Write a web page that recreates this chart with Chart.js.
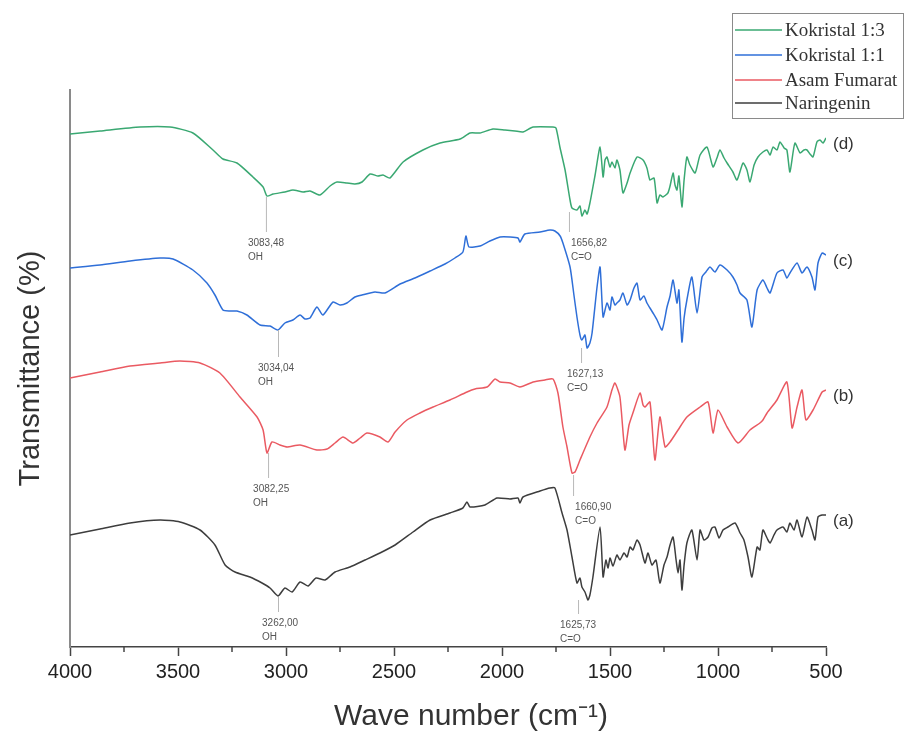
<!DOCTYPE html>
<html>
<head>
<meta charset="utf-8">
<script src="https://cdn.jsdelivr.net/npm/chart.js@4.4.1/dist/chart.umd.min.js"></script>
<style>
  html, body { margin: 0; padding: 0; background: #fff; }
  #wrap { width: 904px; height: 740px; }
</style>
</head>
<body>
<div id="wrap"><canvas id="ftirChart" width="904" height="740"></canvas></div>
<script>
// FTIR spectra, [wave number, transmittance (stacked, arbitrary offset)]
const kokristal13 = [[4000,513],[3861,516],[3676,520],[3537,520],[3431,514],[3338,497],[3292,488],[3227,484],[3153,470],[3106,460],[3088,451],[3060,453],[3005,455],[2968,457],[2921,455],[2889,456],[2843,452],[2796,461],[2764,465],[2718,464],[2681,463],[2648,465],[2611,473],[2574,471],[2551,472],[2519,469],[2458,485],[2366,497],[2287,504],[2194,508],[2148,514],[2102,514],[2042,518],[1986,517],[1940,516],[1903,515],[1856,520],[1764,520],[1750,519],[1731,499],[1708,477],[1685,447],[1676,439],[1653,437],[1639,441],[1630,431],[1616,437],[1606,433],[1593,444],[1569,472],[1546,500],[1532,470],[1523,487],[1514,490],[1500,480],[1491,485],[1477,479],[1468,487],[1454,477],[1440,454],[1421,464],[1407,474],[1375,490],[1347,487],[1329,479],[1315,467],[1296,469],[1282,444],[1269,452],[1255,450],[1232,454],[1222,461],[1208,474],[1199,462],[1190,457],[1181,471],[1167,440],[1157,467],[1144,490],[1130,482],[1106,474],[1083,492],[1051,500],[1023,480],[1005,489],[991,497],[972,489],[958,484],[931,475],[912,467],[884,484],[866,477],[852,465],[833,482],[815,490],[792,495],[773,497],[759,492],[745,500],[727,497],[713,505],[694,499],[681,497],[667,475],[644,504],[620,494],[602,497],[588,497],[574,493],[560,490],[542,505],[528,507],[514,504],[500,509]];

const kokristal11 = [[4000,379],[3861,382],[3722,386],[3583,389],[3523,388],[3431,377],[3366,364],[3329,352],[3292,337],[3259,336],[3227,336],[3181,332],[3120,322],[3074,321],[3037,317],[3005,324],[2968,327],[2935,332],[2912,328],[2889,329],[2857,340],[2829,332],[2782,345],[2750,342],[2718,344],[2681,350],[2648,352],[2588,355],[2542,354],[2472,363],[2403,369],[2333,376],[2264,383],[2218,389],[2181,395],[2167,411],[2153,400],[2102,401],[2056,406],[2009,410],[1963,410],[1926,409],[1917,405],[1894,413],[1824,415],[1778,417],[1755,416],[1731,411],[1718,404],[1685,380],[1667,352],[1653,330],[1639,312],[1630,307],[1616,312],[1606,299],[1593,304],[1583,314],[1560,360],[1546,380],[1532,330],[1514,344],[1500,337],[1491,350],[1477,342],[1468,344],[1454,347],[1440,354],[1421,342],[1407,347],[1389,359],[1375,364],[1361,347],[1343,351],[1329,344],[1315,339],[1301,334],[1282,327],[1259,317],[1236,340],[1222,351],[1208,367],[1190,344],[1181,357],[1167,305],[1157,329],[1144,347],[1121,370],[1097,334],[1074,370],[1056,375],[1037,380],[1014,375],[991,382],[958,377],[931,370],[912,362],[898,354],[866,347],[843,320],[819,357],[792,367],[773,359],[759,354],[727,374],[699,377],[681,369],[667,374],[634,384],[611,374],[588,380],[565,370],[551,357],[537,384],[518,394],[500,392]];

const asamFumarat = [[4000,269],[3861,275],[3722,281],[3583,284],[3491,286],[3398,284],[3306,274],[3213,250],[3134,230],[3106,217],[3088,194],[3065,205],[3028,202],[2995,200],[2935,202],[2857,197],[2810,198],[2773,204],[2736,210],[2690,204],[2657,209],[2625,214],[2565,210],[2528,205],[2495,215],[2440,227],[2380,234],[2319,240],[2241,247],[2162,255],[2125,258],[2069,260],[2032,268],[2009,265],[1963,264],[1917,260],[1856,265],[1801,267],[1764,268],[1741,254],[1718,220],[1699,200],[1676,174],[1662,175],[1639,187],[1593,210],[1560,224],[1514,240],[1491,257],[1477,264],[1454,250],[1431,197],[1412,222],[1394,234],[1361,254],[1347,242],[1338,240],[1315,245],[1292,187],[1269,230],[1245,200],[1222,205],[1185,217],[1144,230],[1083,240],[1046,245],[1023,214],[1000,237],[958,220],[907,204],[852,217],[806,224],[792,227],[773,234],[727,247],[681,265],[657,219],[634,240],[611,257],[593,227],[560,237],[518,255],[500,257]];

const naringenin = [[4000,112],[3861,118],[3722,124],[3583,127],[3491,125],[3398,117],[3329,102],[3282,82],[3236,75],[3167,70],[3111,64],[3074,59],[3037,51],[3005,59],[2972,55],[2935,65],[2898,61],[2861,69],[2819,67],[2773,75],[2704,80],[2634,87],[2565,94],[2495,102],[2412,115],[2333,127],[2241,134],[2181,139],[2162,145],[2148,140],[2079,142],[2023,149],[1963,148],[1926,149],[1917,144],[1903,150],[1824,156],[1778,159],[1755,159],[1722,134],[1699,117],[1676,90],[1653,64],[1639,69],[1630,60],[1616,55],[1602,47],[1593,52],[1579,70],[1546,120],[1532,70],[1519,87],[1509,79],[1500,89],[1486,81],[1468,92],[1454,87],[1435,94],[1421,90],[1407,100],[1394,97],[1375,107],[1361,102],[1338,84],[1324,94],[1306,82],[1287,87],[1269,64],[1250,82],[1236,90],[1222,102],[1208,110],[1194,87],[1185,74],[1176,87],[1167,57],[1157,82],[1144,104],[1121,117],[1097,87],[1083,117],[1065,107],[1046,110],[1028,119],[1014,120],[995,109],[977,117],[954,120],[921,124],[898,114],[880,107],[861,90],[843,70],[819,100],[806,97],[792,117],[773,109],[759,104],[741,112],[727,117],[699,120],[681,115],[667,124],[648,117],[634,127],[611,110],[588,130],[565,117],[551,107],[537,130],[518,132],[500,132]];

const seriesNames = ['Kokristal 1:3', 'Kokristal 1:1', 'Asam Fumarat', 'Naringenin'];
const seriesTags = ['(d)', '(c)', '(b)', '(a)'];
const seriesColors = ['#3aa872', '#2f6fd8', '#ea5a62', '#3d3d3d'];

const xTickValues = [4000, 3500, 3000, 2500, 2000, 1500, 1000, 500];
const xMinorTicks = [3750, 3250, 2750, 2250, 1750, 1250, 750];
const xTitle = 'Wave number (cm\u207B\u00B9)';

// peak annotations
const peakWn = [3093, 1690, 3037, 1634, 3083, 1671, 3037, 1648];
const peakTop = [450, 435, 317, 299, 194, 172, 50, 47];
const peakNum = ['3083,48', '1656,82', '3034,04', '1627,13', '3082,25', '1660,90', '3262,00', '1625,73'];
const peakGroup = ['OH', 'C=O', 'OH', 'C=O', 'OH', 'C=O', 'OH', 'C=O'];

(function() {
  const toXY = arr => arr.map(p => ({ x: p[0], y: p[1] }));
  const allSeries = [kokristal13, kokristal11, asamFumarat, naringenin];

  const peakLineLen = [35, 20, 27, 15, 25, 21, 15, 14];
  const peakTextDx = [-18, 2, -20, -14, -15, 2, -16, -18];

  const decorPlugin = {
    id: 'decor',
    afterDatasetsDraw(chart) {
      const ctx = chart.ctx;
      const xs = chart.scales.x, ys = chart.scales.y;
      ctx.save();
      // peak markers + labels
      for (let i = 0; i < peakWn.length; i++) {
        const px = xs.getPixelForValue(peakWn[i]);
        const py = ys.getPixelForValue(peakTop[i]);
        const pb = py + peakLineLen[i];
        ctx.strokeStyle = '#b8b8b8';
        ctx.lineWidth = 1;
        ctx.beginPath();
        ctx.moveTo(px + 0.5, py);
        ctx.lineTo(px + 0.5, pb);
        ctx.stroke();
        ctx.fillStyle = '#555';
        ctx.font = '10px "Liberation Sans", Arial, sans-serif';
        ctx.textAlign = 'left';
        ctx.textBaseline = 'middle';
        ctx.fillText(peakNum[i], px + peakTextDx[i], pb + 11);
        ctx.fillText(peakGroup[i], px + peakTextDx[i], pb + 25);
      }
      ctx.restore();
    },
    afterDraw(chart) {
      const ctx = chart.ctx;
      const xs = chart.scales.x, ys = chart.scales.y;
      const area = chart.chartArea;
      ctx.save();
      // minor ticks
      ctx.strokeStyle = '#444';
      ctx.lineWidth = 1.5;
      xMinorTicks.forEach(v => {
        const px = xs.getPixelForValue(v);
        ctx.beginPath();
        ctx.moveTo(px, area.bottom);
        ctx.lineTo(px, area.bottom + 5);
        ctx.stroke();
      });
      // x axis title (sits a little right of centre in the original)
      ctx.fillStyle = '#333';
      ctx.font = '30px "Liberation Sans", Arial, sans-serif';
      ctx.textAlign = 'center';
      ctx.textBaseline = 'middle';
      ctx.fillText(xTitle, 471, 717);
      // series tags at the right end
      ctx.font = '17px "Liberation Sans", Arial, sans-serif';
      ctx.textAlign = 'left';
      allSeries.forEach((s, i) => {
        const last = s[s.length - 1];
        ctx.fillText(seriesTags[i], area.right + 7, ys.getPixelForValue(last[1]) + 6);
      });
      // legend box
      const bx = 732, by = 13, bw = 171, bh = 105;
      ctx.fillStyle = '#fff';
      ctx.fillRect(bx, by, bw, bh);
      ctx.strokeStyle = '#8a8a8a';
      ctx.lineWidth = 1;
      ctx.strokeRect(bx + 0.5, by + 0.5, bw, bh);
      const rowY = [30, 55, 80, 103];
      ctx.font = '19px "Liberation Serif", "Times New Roman", serif';
      chart.data.datasets.forEach((ds, i) => {
        ctx.strokeStyle = ds.borderColor;
        ctx.lineWidth = 1.5;
        ctx.beginPath();
        ctx.moveTo(735, rowY[i]);
        ctx.lineTo(782, rowY[i]);
        ctx.stroke();
        ctx.fillStyle = '#333';
        ctx.fillText(ds.label, 785, rowY[i] + 1);
      });
      ctx.restore();
    }
  };

  new Chart(document.getElementById('ftirChart').getContext('2d'), {
    type: 'line',
    data: {
      datasets: allSeries.map((s, i) => ({
        label: seriesNames[i],
        data: toXY(s),
        borderColor: seriesColors[i],
        borderWidth: 1.5,
        pointRadius: 0,
        tension: 0.2,
        fill: false
      }))
    },
    options: {
      responsive: false,
      animation: false,
      layout: { padding: { top: 90, right: 78, left: 0, bottom: 0 } },
      plugins: { legend: { display: false }, tooltip: { enabled: false } },
      scales: {
        x: {
          type: 'linear',
          reverse: true,
          min: 500,
          max: 4000,
          afterBuildTicks: scale => { scale.ticks = xTickValues.map(v => ({ value: v })); },
          afterFit: scale => { scale.height = 93; },
          ticks: {
            color: '#222',
            padding: 4,
            maxRotation: 0,
            callback: v => String(v),
            font: { family: '"Liberation Sans", Arial, sans-serif', size: 20 }
          },
          grid: { drawOnChartArea: false, drawTicks: true, tickLength: 9, color: '#444', tickWidth: 1.5 },
          border: { display: true, color: '#444', width: 1.5 },
          title: { display: false }
        },
        y: {
          type: 'linear',
          min: 0,
          max: 557,
          afterFit: scale => { scale.width = 70; },
          ticks: { display: false },
          grid: { drawOnChartArea: false, drawTicks: false },
          border: { display: true, color: '#8a8a8a', width: 2 },
          title: {
            display: true,
            text: 'Transmittance (%)',
            color: '#333',
            font: { family: '"Liberation Sans", Arial, sans-serif', size: 29 },
            padding: { top: 14, bottom: 0 }
          }
        }
      }
    },
    plugins: [decorPlugin]
  });
})();
</script>
</body>
</html>
